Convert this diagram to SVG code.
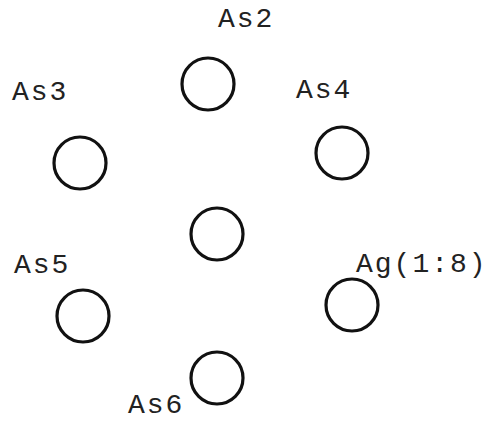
<svg xmlns="http://www.w3.org/2000/svg" width="494" height="423" viewBox="0 0 494 423">
<style>
.n{fill:none;stroke:#111;stroke-width:3.2}
.t{font-family:"Liberation Mono","Courier New",monospace;font-size:28px;letter-spacing:2px;fill:#222}
</style>
<rect width="494" height="423" fill="#fff"/>
<g id="connectors"></g>
<g id="As2"><circle class="n" cx="208" cy="84" r="26"/><text class="t" x="218" y="27">As2</text></g>
<g id="As3"><circle class="n" cx="80" cy="163" r="26"/><text class="t" x="12" y="100">As3</text></g>
<g id="As4"><circle class="n" cx="342" cy="153" r="26"/><text class="t" x="296" y="98">As4</text></g>
<g id="center"><circle class="n" cx="217" cy="234" r="26"/></g>
<g id="As5"><circle class="n" cx="83" cy="316" r="26"/><text class="t" x="14" y="273">As5</text></g>
<g id="Ag"><circle class="n" cx="352" cy="305" r="26"/><text class="t" x="356" y="272">Ag(1:8)</text></g>
<g id="As6"><circle class="n" cx="217" cy="378" r="26"/><text class="t" x="128" y="413">As6</text></g>
</svg>
